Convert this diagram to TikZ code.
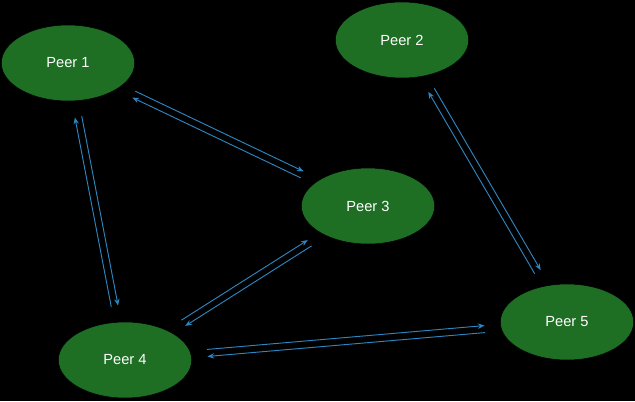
\documentclass[tikz,border=0pt]{standalone}
\usepackage{fontspec}
\setmainfont{Liberation Sans}
\usetikzlibrary{shapes.geometric,arrows.meta}
\definecolor{peergreen}{RGB}{30,110,36}
\definecolor{linkblue}{RGB}{46,134,193}
\begin{document}
\begin{tikzpicture}[x=0.75pt,y=-0.75pt,
  peer/.style={ellipse,fill=peergreen,draw=black,minimum width=100pt,minimum height=57pt,text=white,font=\fontsize{11}{13}\selectfont},
  link/.style={draw=linkblue,line width=0.7pt,-{Stealth[length=5pt,width=4pt]},shorten >=12pt,shorten <=12pt}]
\fill[black] (0,0) rectangle (635,401);
\useasboundingbox (0,0) rectangle (635,401);
\node[peer] (p1) at (68,63) {Peer 1};
\node[peer] (p2) at (402,40) {Peer 2};
\node[peer] (p3) at (368,206) {Peer 3};
\node[peer] (p4) at (125,360) {Peer 4};
\node[peer] (p5) at (567,322) {Peer 5};

\draw[link,transform canvas={shift={(1.5,-3.2)}}] (p1) -- (p3);
\draw[link,transform canvas={shift={(-1.5,3.2)}}] (p3) -- (p1);
\draw[link,transform canvas={shift={(3.4,-0.7)}}] (p1) -- (p4);
\draw[link,transform canvas={shift={(-3.4,0.7)}}] (p4) -- (p1);
\draw[link,transform canvas={shift={(-1.9,-2.9)}}] (p4) -- (p3);
\draw[link,transform canvas={shift={(1.9,2.9)}}] (p3) -- (p4);
\draw[link,transform canvas={shift={(-0.3,-3.5)}}] (p4) -- (p5);
\draw[link,transform canvas={shift={(0.3,3.5)}}] (p5) -- (p4);
\draw[link,transform canvas={shift={(3,-1.75)}}] (p2) -- (p5);
\draw[link,transform canvas={shift={(-3,1.75)}}] (p5) -- (p2);
\end{tikzpicture}
\end{document}
